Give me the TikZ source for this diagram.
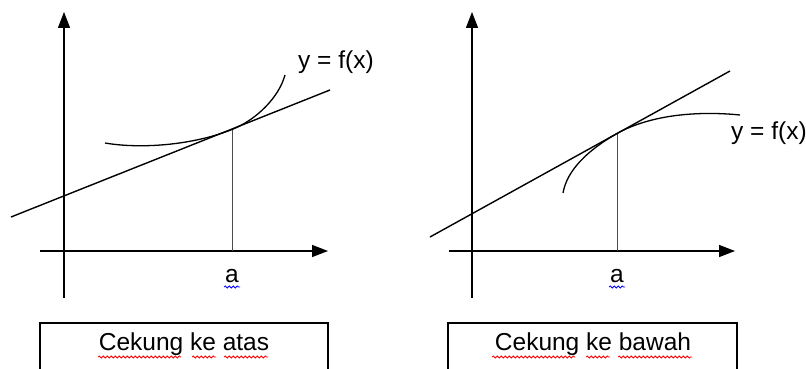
\documentclass[tikz,border=0pt]{standalone}
\usepackage{fontspec}
\setmainfont{Liberation Sans}
\usetikzlibrary{arrows.meta,decorations.pathmorphing}
\tikzset{
  axis/.style={line width=1.5pt,-{Triangle[length=16pt,width=12pt]}},
  tangent/.style={line width=1.4pt},
  curvef/.style={line width=1.3pt},
  guide/.style={line width=0.8pt,black!70},
  lbl/.style={inner sep=0pt,font=\fontsize{24.5}{28}\selectfont},
  capbox/.style={draw,line width=1.4pt},
  spell/.style={decorate,decoration={snake,amplitude=1pt,segment length=4pt},line width=0.8pt},
}
\begin{document}
\begin{tikzpicture}[x=1pt,y=-1pt]
\useasboundingbox (0,0) rectangle (806,369);
% ---------- left panel ----------
\coordinate (Loy0) at (64,298);
\coordinate (Loy1) at (64,12);
\coordinate (Lox0) at (40,251);
\coordinate (Lox1) at (328,251);
\draw[axis] (Loy0) -- (Loy1);
\draw[axis] (Lox0) -- (Lox1);
\coordinate (Lt0) at (11,217);
\coordinate (Lt1) at (330,90);
\draw[tangent] (Lt0) -- (Lt1);
\coordinate (LP) at (232,129.5);
\coordinate (LA) at (232,251);
\draw[guide] (LP) -- (LA);
\draw[curvef] (105,143) .. controls (140,149) and (192,145.5) .. (LP)
  .. controls (257,119.5) and (279,97) .. (285,75);
\node[lbl] (La) at (232,276) {a};
\node[lbl,anchor=west] (Lf) at (298,62) {y = f(x)};
\draw[capbox] (40,323) rectangle (328,390);
\node[lbl] (Lc) at (184,344) {Cekung ke atas};
% ---------- right panel ----------
\coordinate (Roy0) at (472,298);
\coordinate (Roy1) at (472,12);
\coordinate (Rox0) at (449,251);
\coordinate (Rox1) at (735,251);
\draw[axis] (Roy0) -- (Roy1);
\draw[axis] (Rox0) -- (Rox1);
\coordinate (Rt0) at (430,237);
\coordinate (Rt1) at (730,71);
\draw[tangent] (Rt0) -- (Rt1);
\coordinate (RP) at (617,133.5);
\coordinate (RA) at (617,251);
\draw[guide] (RP) -- (RA);
\draw[curvef] (563,193) .. controls (567,170) and (588,150) .. (RP)
  .. controls (652,114) and (700,111) .. (740,115);
\node[lbl] (Ra) at (617,276) {a};
\node[lbl,anchor=west] (Rf) at (731,133) {y = f(x)};
\draw[capbox] (448,323) rectangle (737,390);
\node[lbl] (Rc) at (593,344) {Cekung ke bawah};
% ---------- spell-check underlines ----------
\draw[spell,blue] (224,287) -- (240,287);
\draw[spell,blue] (609,287) -- (625,287);
\draw[spell,red] (98,357) -- (181,357);
\draw[spell,red] (192,357) -- (216,357);
\draw[spell,red] (224,357) -- (268,357);
\draw[spell,red] (492,357) -- (575,357);
\draw[spell,red] (586,357) -- (610,357);
\draw[spell,red] (618,357) -- (692,357);
\end{tikzpicture}
\end{document}
